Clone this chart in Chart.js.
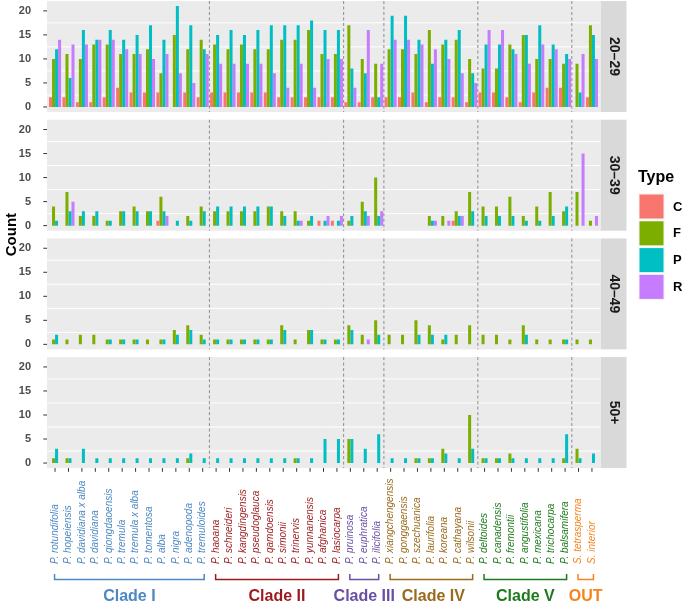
<!DOCTYPE html>
<html>
<head>
<meta charset="utf-8">
<script src="https://cdn.jsdelivr.net/npm/chart.js@4.4.1/dist/chart.umd.min.js"></script>
<style>
  html, body { margin: 0; padding: 0; background: #fff; }
  #wrap { position: relative; width: 685px; height: 602px; }
  #wrap canvas { position: absolute; left: 0; top: 0; }
</style>
</head>
<body>
<div id="wrap">
  <canvas id="panel0" width="685" height="602"></canvas>
  <canvas id="panel1" width="685" height="602"></canvas>
  <canvas id="panel2" width="685" height="602"></canvas>
  <canvas id="panel3" width="685" height="602"></canvas>
</div>
<script>
'use strict';
//Data
const species = [
  'P. rotundifolia', 'P. hopeiensis', 'P. davidiana x alba', 'P. davidiana', 'P. qiongdaoensis',
  'P. tremula', 'P. tremula x alba', 'P. tomentosa', 'P. alba', 'P. nigra', 'P. adenopoda', 'P. tremuloides',
  'P. haoana', 'P. schneideri', 'P. kangdingensis', 'P. pseudoglauca', 'P. qamdoensis',
  'P. simonii', 'P. trinervis', 'P. yunnanensis', 'P. afghanica', 'P. lasiocarpa',
  'P. pruinosa', 'P. euphratica', 'P. ilicifolia',
  'P. xiangchengensis', 'P. gonggaensis', 'P. szechuanica', 'P. laurifolia', 'P. koreana', 'P. cathayana', 'P. wilsonii',
  'P. deltoides', 'P. canadensis', 'P. fremontii', 'P. angustifolia', 'P. mexicana', 'P. trichocarpa', 'P. balsamifera',
  'S. tetrasperma', 'S. interior'
];
const clades = ['Clade I', 'Clade II', 'Clade III', 'Clade IV', 'Clade V', 'OUT'];
const cladeSizes = [12, 10, 3, 7, 7, 2];
const cladeColors = ['#4C88C2', '#9B1A1E', '#6A4FA2', '#9A6A1C', '#1E7A1E', '#F5841C'];
const types = ['C', 'F', 'P', 'R'];
const typeColors = ['#F8766D', '#7CAE00', '#00BFC4', '#C77CFF'];
const ageGroups = ['20–29', '30–39', '40–49', '50+'];
const yTicks = [0, 5, 10, 15, 20];
const yMinor = [2.5, 7.5, 12.5, 17.5];

// 20-29
const c20 = [2,2,1,1,2,4,3,3,3,0,3,2, 3,3,3,3,3,2,2,2,2,2, 1,1,2, 2,2,3,1,2,2,1, 3,3,2,1,3,4,4, 0,2];
const f20 = [10,11,10,13,13,11,11,12,7,15,12,14, 13,12,13,12,12,14,14,16,11,11, 17,10,9, 12,12,11,16,13,14,10, 8,8,13,15,10,10,9, 9,17];
const p20 = [12,6,16,14,16,14,15,17,14,21,17,12, 15,16,15,16,17,17,17,18,16,16, 8,7,2, 19,19,14,9,14,16,7, 13,13,12,15,17,13,11, 3,15];
const r20 = [14,13,13,14,14,12,11,10,11,7,5,11, 9,9,9,9,7,4,9,4,10,10, 4,16,9, 14,14,13,12,10,7,5, 16,16,11,9,13,12,10, 11,10];
// 30-39
const c30 = [0,0,0,0,0,0,0,0,1,0,0,0, 0,0,0,0,0,0,0,0,1,1, 0,0,0, 0,0,0,0,0,1,0, 0,0,0,0,0,0,0, 0,0];
const f30 = [4,7,2,2,1,3,4,3,6,0,2,4, 3,3,3,3,4,3,3,1,0,0, 1,5,10, 0,0,0,2,2,3,7, 4,4,6,2,4,7,3, 7,1];
const p30 = [1,3,3,3,1,3,3,3,3,1,1,3, 4,4,4,4,4,2,1,2,1,1, 2,3,2, 0,0,0,1,0,2,3, 2,2,2,1,1,2,4, 0,0];
const r30 = [0,5,0,0,0,0,0,0,2,0,0,0, 0,0,0,0,0,0,1,0,2,2, 0,2,3, 0,0,0,1,1,2,0, 0,0,0,0,0,0,0, 15,2];
// 40-49
const c40 = [0,0,0,0,0,0,0,0,0,0,0,0, 0,0,0,0,0,0,0,0,0,0, 0,0,0, 0,0,0,0,0,0,0, 0,0,0,0,0,0,0, 0,0];
const f40 = [1,1,2,2,1,1,1,1,1,3,4,2, 1,1,1,1,1,4,1,3,1,1, 4,2,5, 2,2,5,4,1,2,4, 2,2,1,4,1,1,1, 1,1];
const p40 = [2,0,0,0,1,1,1,0,1,2,3,1, 1,1,1,1,1,3,0,3,1,1, 3,0,2, 0,0,2,2,2,0,0, 0,0,0,2,0,0,1, 0,0];
const r40 = [0,0,0,0,0,0,0,0,0,0,0,0, 0,0,0,0,0,0,0,0,0,0, 0,1,0, 0,0,0,0,0,0,0, 0,0,0,0,0,0,0, 0,0];
// 50+
const c50 = [0,0,0,0,0,0,0,0,0,0,0,0, 0,0,0,0,0,0,0,0,0,0, 0,0,0, 0,0,0,0,0,0,0, 0,0,0,0,0,0,0, 0,0];
const f50 = [1,1,0,0,0,0,0,0,0,0,1,0, 0,0,0,0,0,0,1,0,0,0, 5,0,0, 0,0,1,1,3,0,10, 1,1,2,0,0,0,1, 3,0];
const p50 = [3,1,3,1,1,1,1,1,1,1,2,1, 1,1,1,1,1,1,1,1,5,5, 5,3,6, 1,1,1,1,2,1,3, 1,1,1,1,1,1,6, 1,2];
const r50 = [0,0,0,0,0,0,0,0,0,0,0,0, 0,0,0,0,0,0,0,0,0,0, 0,0,0, 0,0,0,0,0,0,0, 0,0,0,0,0,0,0, 0,0];

const panelData = [
  [c20, f20, p20, r20],
  [c30, f30, p30, r30],
  [c40, f40, p40, r40],
  [c50, f50, p50, r50]
];

//Layout
const FONT = '"Liberation Sans", Arial, sans-serif';
const PANEL_LEFT = 47;
const PANEL_RIGHT = 600;
const PANEL_H = 111;
const panelTops = [1, 119.7, 238.4, 357.1];
const catW = (PANEL_RIGHT - PANEL_LEFT) / (species.length + 0.2);
const areaLeft = PANEL_LEFT + 0.1 * catW;
const areaRight = PANEL_RIGHT - 0.1 * catW;

function speciesColor(i){
  let n = 0;
  for(let c = 0; c < cladeSizes.length; c++){
    n += cladeSizes[c];
    if(i < n) return cladeColors[c];
  }
  return '#000';
}

//Plugins
const panelPlugin = {
  id: 'panelDeco',
  beforeDraw(chart, args, opts){
    const ctx = chart.ctx;
    const top = panelTops[opts.index];
    const y = chart.scales.y;
    ctx.save();
    ctx.fillStyle = '#EBEBEB';
    ctx.fillRect(PANEL_LEFT, top, PANEL_RIGHT - PANEL_LEFT, PANEL_H);
    ctx.strokeStyle = '#FFFFFF';
    ctx.lineWidth = 1;
    for(const v of yMinor){
      const py = y.getPixelForValue(v);
      ctx.beginPath();
      ctx.moveTo(PANEL_LEFT, py);
      ctx.lineTo(PANEL_RIGHT, py);
      ctx.stroke();
    }
    ctx.strokeStyle = '#333333';
    for(const v of yTicks){
      const py = y.getPixelForValue(v);
      ctx.beginPath();
      ctx.moveTo(PANEL_LEFT - 3.7, py);
      ctx.lineTo(PANEL_LEFT, py);
      ctx.stroke();
    }
    // strip
    ctx.fillStyle = '#D9D9D9';
    ctx.fillRect(PANEL_RIGHT + 0.5, top, 26, PANEL_H);
    ctx.translate(PANEL_RIGHT + 13.5, top + PANEL_H / 2);
    ctx.rotate(Math.PI / 2);
    ctx.fillStyle = '#1A1A1A';
    ctx.font = 'bold 14px ' + FONT;
    ctx.textAlign = 'center';
    ctx.textBaseline = 'middle';
    ctx.fillText(ageGroups[opts.index], 0, 0);
    ctx.restore();
  },
  afterDatasetsDraw(chart, args, opts){
    const ctx = chart.ctx;
    const top = panelTops[opts.index];
    const x = chart.scales.x;
    ctx.save();
    ctx.strokeStyle = '#8C8C8C';
    ctx.lineWidth = 1;
    ctx.setLineDash([3, 2.5]);
    let n = 0;
    for(let c = 0; c < cladeSizes.length - 1; c++){
      n += cladeSizes[c];
      const px = (x.getPixelForValue(n - 1) + x.getPixelForValue(n)) / 2;
      ctx.beginPath();
      ctx.moveTo(px, top);
      ctx.lineTo(px, top + PANEL_H);
      ctx.stroke();
    }
    ctx.restore();
  }
};

const pagePlugin = {
  id: 'pageDeco',
  afterDraw(chart){
    const ctx = chart.ctx;
    const x = chart.scales.x;
    const bottom = panelTops[3] + PANEL_H;
    ctx.save();
    // x ticks
    ctx.strokeStyle = '#333333';
    ctx.lineWidth = 1;
    for(let i = 0; i < species.length; i++){
      const px = x.getPixelForValue(i);
      ctx.beginPath();
      ctx.moveTo(px, bottom);
      ctx.lineTo(px, bottom + 3.7);
      ctx.stroke();
    }
    // species labels
    ctx.font = 'italic 10px ' + FONT;
    ctx.textAlign = 'left';
    ctx.textBaseline = 'middle';
    for(let i = 0; i < species.length; i++){
      ctx.save();
      ctx.translate(x.getPixelForValue(i), 564);
      ctx.rotate(-Math.PI / 2);
      ctx.fillStyle = speciesColor(i);
      ctx.fillText(species[i], 0, 0);
      ctx.restore();
    }
    // clade brackets
    let s = 0;
    ctx.lineWidth = 1.5;
    for(let c = 0; c < clades.length; c++){
      const e = s + cladeSizes[c] - 1;
      const x1 = x.getPixelForValue(s) - 0.5;
      const x2 = x.getPixelForValue(e) + 1.5;
      ctx.strokeStyle = cladeColors[c];
      ctx.beginPath();
      ctx.moveTo(x1, 574);
      ctx.lineTo(x1, 579.5);
      ctx.lineTo(x2, 579.5);
      ctx.lineTo(x2, 574);
      ctx.stroke();
      ctx.fillStyle = cladeColors[c];
      ctx.font = 'bold 16px ' + FONT;
      ctx.textAlign = 'center';
      ctx.textBaseline = 'alphabetic';
      ctx.fillText(clades[c], (x1 + x2) / 2 + (c === 3 ? 2 : 0), 601);
      s = e + 1;
    }
    // y title
    ctx.save();
    ctx.translate(12, (panelTops[0] + bottom) / 2);
    ctx.rotate(-Math.PI / 2);
    ctx.fillStyle = '#000';
    ctx.font = 'bold 15px ' + FONT;
    ctx.textAlign = 'center';
    ctx.textBaseline = 'middle';
    ctx.fillText('Count', 0, 0);
    ctx.restore();
    // legend
    ctx.fillStyle = '#000';
    ctx.font = 'bold 16px ' + FONT;
    ctx.textAlign = 'left';
    ctx.textBaseline = 'alphabetic';
    ctx.fillText('Type', 638, 182);
    for(let k = 0; k < types.length; k++){
      const ky = 194 + k * 26.8;
      ctx.fillStyle = '#F2F2F2';
      ctx.fillRect(638.5, ky - 0.5, 26, 26);
      ctx.fillStyle = typeColors[k];
      ctx.fillRect(639.5, ky + 0.5, 24, 24);
      ctx.fillStyle = '#000';
      ctx.font = 'bold 13px ' + FONT;
      ctx.textBaseline = 'middle';
      ctx.fillText(types[k], 673, ky + 13);
    }
    ctx.restore();
  }
};

//Charts
function renderPanel(index){
  const top = panelTops[index];
  const datasets = [];
  for(let k = 0; k < types.length; k++){
    datasets.push({
      label: types[k],
      data: panelData[index][k],
      backgroundColor: typeColors[k],
      borderWidth: 0,
      inflateAmount: 0,
      categoryPercentage: 0.9,
      barPercentage: 1
    });
  }
  const plugins = [panelPlugin];
  if(index === panelData.length - 1) plugins.push(pagePlugin);
  return new Chart(document.getElementById('panel' + index), {
    type: 'bar',
    data: { labels: species, datasets: datasets },
    options: {
      responsive: false,
      animation: false,
      layout: {
        padding: { left: 0, right: 685 - areaRight, top: top, bottom: 602 - top - PANEL_H }
      },
      plugins: {
        legend: { display: false },
        tooltip: { enabled: false },
        panelDeco: { index: index }
      },
      scales: {
        x: { display: false, offset: true },
        y: {
          min: -1.05,
          max: 22.05,
          afterBuildTicks(scale){
            scale.ticks = yTicks.map(v => ({ value: v }));
          },
          afterFit(scale){
            scale.width = areaLeft;
            scale.paddingTop = 0;
            scale.paddingBottom = 0;
          },
          grid: { display: false },
          border: { display: false },
          ticks: {
            padding: areaLeft - 39,
            color: '#4D4D4D',
            font: { family: FONT, size: 11, weight: 'bold' }
          }
        }
      }
    },
    plugins: plugins
  });
}

for(let i = 0; i < panelData.length; i++){
  renderPanel(i);
}
</script>
</body>
</html>
